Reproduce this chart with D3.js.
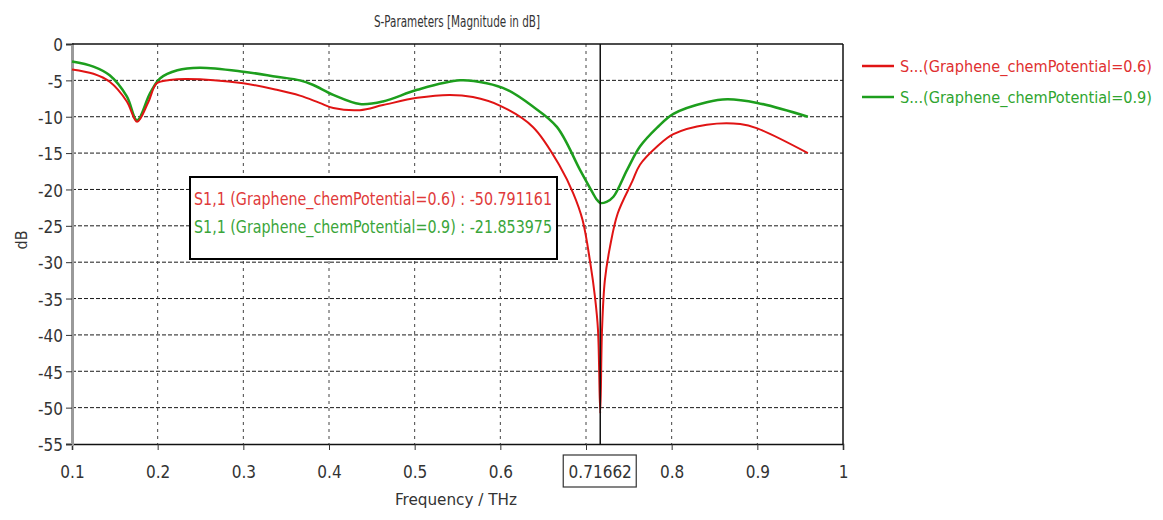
<!DOCTYPE html>
<html lang="en">
<head>
<meta charset="utf-8">
<title>S-Parameters</title>
<script src="https://cdn.jsdelivr.net/npm/d3@7"></script>
<style>
    html, body { margin: 0; padding: 0; background: #fff; }
    svg text { font-family: "Liberation Sans Narrow", "DejaVu Sans Condensed", sans-serif; }
</style>
</head>
<body>
<div id="chart"></div>
<script>
// S11 for chemPotential = 0.6 (red)
var freqRed = [0.100, 0.125, 0.144, 0.164, 0.176, 0.189, 0.199, 0.214, 0.234, 0.300, 0.339, 0.366, 0.389, 0.405, 0.436, 0.463, 0.503, 0.541, 0.568, 0.600, 0.638, 0.670, 0.685, 0.696, 0.705, 0.7105, 0.714, 0.71662, 0.7187, 0.722, 0.728, 0.737, 0.754, 0.763, 0.783, 0.802, 0.841, 0.880, 0.900, 0.959];
var dbRed   = [-3.5, -4.1, -5.2, -7.9, -10.7, -8.0, -5.4, -4.95, -4.8, -5.4, -6.3, -7.1, -8.1, -8.8, -9.1, -8.4, -7.4, -7.0, -7.3, -8.5, -11.4, -16.9, -20.5, -24.2, -30.1, -34.8, -39.3, -50.791161, -39.3, -32.5, -27.9, -23.3, -18.9, -16.6, -14.1, -12.4, -11.1, -11.0, -11.6, -15.0];

// S11 for chemPotential = 0.9 (green)
var freqGreen = [0.100, 0.125, 0.144, 0.164, 0.176, 0.191, 0.203, 0.223, 0.249, 0.300, 0.339, 0.366, 0.381, 0.405, 0.436, 0.463, 0.503, 0.553, 0.584, 0.608, 0.638, 0.666, 0.693, 0.708, 0.712, 0.71662, 0.724, 0.732, 0.748, 0.763, 0.783, 0.802, 0.841, 0.865, 0.900, 0.959];
var dbGreen   = [-2.4, -3.1, -4.3, -7.2, -10.5, -6.8, -4.7, -3.6, -3.25, -3.8, -4.5, -5.0, -5.6, -7.0, -8.25, -7.9, -6.3, -5.0, -5.4, -6.3, -8.6, -11.4, -17.3, -20.5, -21.3, -21.853975, -21.7, -21.0, -17.3, -14.1, -11.5, -9.6, -8.0, -7.6, -8.1, -10.0];

var xTicks = [0.1, 0.2, 0.3, 0.4, 0.5, 0.6, 0.7, 0.8, 0.9, 1];
var xTickLabels = ["0.1", "0.2", "0.3", "0.4", "0.5", "0.6", "", "0.8", "0.9", "1"];
var yTicks = [0, -5, -10, -15, -20, -25, -30, -35, -40, -45, -50, -55];

var seriesNames = ["S...(Graphene_chemPotential=0.6)", "S...(Graphene_chemPotential=0.9)"];
var markerNames = ["S1,1 (Graphene_chemPotential=0.6) : -50.791161", "S1,1 (Graphene_chemPotential=0.9) : -21.853975"];
var markerFreq = 0.71662;

var width = 1163, height = 520;
// plot box (note: "top" is taken by window.top)
var plotLeft = 72, plotRight = 843, plotTop = 44, plotBottom = 444;

var svg = d3.select("#chart").append("svg")
    .attr("width", width)
    .attr("height", height);

var x = d3.scaleLinear().domain([0.1, 1]).range([plotLeft, plotRight]);
var y = d3.scaleLinear().domain([0, -55]).range([plotTop, plotBottom]);

//grid lines
svg.append("g")
    .selectAll("line")
    .data(yTicks.slice(1, -1))
    .enter().append("line")
    .attr("x1", plotLeft).attr("x2", plotRight)
    .attr("y1", function(d) { return y(d); })
    .attr("y2", function(d) { return y(d); })
    .attr("stroke", "#1a1a1a")
    .attr("stroke-width", 1)
    .attr("stroke-dasharray", "4,2");

svg.append("g")
    .selectAll("line")
    .data(xTicks.slice(1, -1))
    .enter().append("line")
    .attr("x1", function(d) { return x(d); })
    .attr("x2", function(d) { return x(d); })
    .attr("y1", plotTop).attr("y2", plotBottom)
    .attr("stroke", "#444")
    .attr("stroke-width", 1)
    .attr("stroke-dasharray", "3,4");

//axes
var xAxis = d3.axisBottom(x)
    .tickValues(xTicks)
    .tickSize(6)
    .tickFormat(function(d, i) { return xTickLabels[i]; });

var gx = svg.append("g")
    .attr("transform", "translate(0," + plotBottom + ")")
    .call(xAxis);
gx.select(".domain").attr("stroke", "#111").attr("stroke-width", 1.5);
gx.selectAll(".tick line").attr("stroke", "#333");
gx.selectAll(".tick text")
    .attr("y", 22)
    .attr("fill", "#333")
    .style("font-size", "17px");

// plain hyphen for negatives, like the original
var yAxis = d3.axisLeft(y)
    .tickValues(yTicks)
    .tickSize(6)
    .tickFormat(function(d) { return String(d); });

var gy = svg.append("g")
    .attr("transform", "translate(" + plotLeft + ",0)")
    .call(yAxis);
gy.select(".domain").attr("stroke", "#9a9a9a").attr("stroke-width", 3);
gy.selectAll(".tick line").attr("stroke", "#333");
gy.selectAll(".tick text")
    .attr("x", -9)
    .attr("dy", "0.4em")
    .attr("fill", "#333")
    .style("font-size", "17px");

//frame top and right
svg.append("line")
    .attr("x1", plotLeft).attr("x2", plotRight)
    .attr("y1", plotTop).attr("y2", plotTop)
    .attr("stroke", "#111").attr("stroke-width", 1.5);
svg.append("line")
    .attr("x1", plotRight).attr("x2", plotRight)
    .attr("y1", plotTop).attr("y2", plotBottom)
    .attr("stroke", "#111").attr("stroke-width", 1.5);

//curves
var line = d3.line()
    .x(function(d) { return x(d[0]); })
    .y(function(d) { return y(d[1]); })
    .curve(d3.curveCatmullRom.alpha(0.5));

var redData = d3.zip(freqRed, dbRed);
var greenData = d3.zip(freqGreen, dbGreen);

svg.append("path")
    .datum(greenData)
    .attr("d", line)
    .attr("fill", "none")
    .attr("stroke", "#1d9e1d")
    .attr("stroke-width", 2.5);

svg.append("path")
    .datum(redData)
    .attr("d", line)
    .attr("fill", "none")
    .attr("stroke", "#e01414")
    .attr("stroke-width", 2);

//marker line
svg.append("line")
    .attr("x1", x(markerFreq)).attr("x2", x(markerFreq))
    .attr("y1", plotTop).attr("y2", plotBottom)
    .attr("stroke", "#111").attr("stroke-width", 1.5);

//marker value box on the x axis
svg.append("rect")
    .attr("x", x(markerFreq) - 37).attr("y", 455)
    .attr("width", 73).attr("height", 32)
    .attr("fill", "#fff")
    .attr("stroke", "#333").attr("stroke-width", 1.2);
svg.append("text")
    .attr("x", x(markerFreq))
    .attr("y", 478)
    .attr("text-anchor", "middle")
    .attr("fill", "#333")
    .style("font-size", "17px")
    .text(markerFreq);

//marker readout box
svg.append("rect")
    .attr("x", 190).attr("y", 177)
    .attr("width", 367).attr("height", 82)
    .attr("fill", "#fff")
    .attr("stroke", "#000").attr("stroke-width", 2);

var readColors = ["#e03a3a", "#3aa53a"];
svg.append("g")
    .selectAll("text")
    .data(markerNames)
    .enter().append("text")
    .attr("x", 194)
    .attr("y", function(d, i) { return 205 + i * 28; })
    .attr("fill", function(d, i) { return readColors[i]; })
    .attr("textLength", 358)
    .attr("lengthAdjust", "spacingAndGlyphs")
    .style("font-size", "18px")
    .text(function(d) { return d; });

//legend
var legendColors = ["#e01414", "#1d9e1d"];
var legendTextColors = ["#e03030", "#2fa52f"];
var legend = svg.append("g")
    .selectAll("g")
    .data(seriesNames)
    .enter().append("g")
    .attr("transform", function(d, i) { return "translate(0," + (66 + i * 31) + ")"; });

legend.append("line")
    .attr("x1", 862).attr("x2", 894)
    .attr("stroke", function(d, i) { return legendColors[i]; })
    .attr("stroke-width", 2.5);

legend.append("text")
    .attr("x", 900)
    .attr("y", 6)
    .attr("fill", function(d, i) { return legendTextColors[i]; })
    .attr("textLength", 252)
    .attr("lengthAdjust", "spacingAndGlyphs")
    .style("font-size", "16px")
    .text(function(d) { return d; });

//titles
svg.append("text")
    .attr("x", 457).attr("y", 27)
    .attr("text-anchor", "middle")
    .attr("fill", "#333")
    .attr("textLength", 166)
    .attr("lengthAdjust", "spacingAndGlyphs")
    .style("font-size", "16px")
    .text("S-Parameters [Magnitude in dB]");

svg.append("text")
    .attr("x", 456).attr("y", 505)
    .attr("text-anchor", "middle")
    .attr("fill", "#333")
    .attr("textLength", 122)
    .attr("lengthAdjust", "spacingAndGlyphs")
    .style("font-size", "16px")
    .text("Frequency / THz");

svg.append("text")
    .attr("transform", "translate(27,240) rotate(-90)")
    .attr("text-anchor", "middle")
    .attr("fill", "#333")
    .style("font-size", "16px")
    .text("dB");
</script>
</body>
</html>
